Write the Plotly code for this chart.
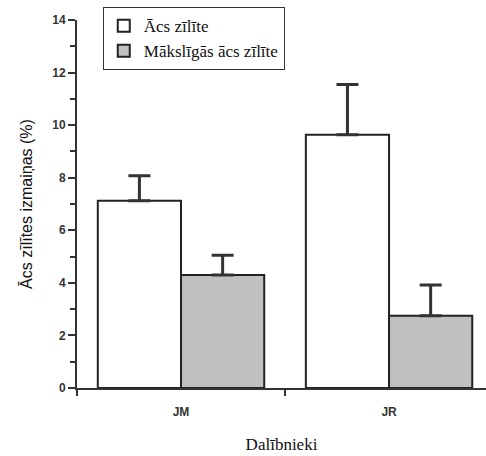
import plotly.graph_objects as go

categories = ["JM", "JR"]
series_names = ["Ācs zīlīte", "Mākslīgās ācs zīlīte"]
natural_vals = [7.12, 9.63]
natural_err = [0.95, 1.92]
artificial_vals = [4.30, 2.75]
artificial_err = [0.75, 1.17]

fills = ["#ffffff", "#c0c0c0"]

fig = go.Figure()
for name, vals, errs, fill in [
    (series_names[0], natural_vals, natural_err, fills[0]),
    (series_names[1], artificial_vals, artificial_err, fills[1]),
]:
    fig.add_trace(go.Bar(
        x=categories, y=vals, name=name,
        marker=dict(color=fill, line=dict(color="#222222", width=2)),
        error_y=dict(type="data", array=errs, symmetric=False,
                     arrayminus=[0] * len(errs),
                     color="#333333", thickness=3, width=11),
    ))

fig.update_layout(
    width=486, height=456,
    margin=dict(l=77, r=0, t=20, b=68),
    paper_bgcolor="white", plot_bgcolor="white",
    barmode="group", bargap=0.2, bargroupgap=0,
    showlegend=True,
    legend=dict(
        x=0.063, y=1.035, xanchor="left", yanchor="top",
        bgcolor="rgba(255,255,255,0)", bordercolor="#333333", borderwidth=1,
        font=dict(family="Liberation Serif", size=17, color="#111111"),
        tracegroupgap=0, itemwidth=30,
    ),
    xaxis=dict(
        range=[-0.5, 1.466], showline=True, linecolor="#333333", linewidth=2,
        ticks="outside", tickson="boundaries", ticklen=6, tickwidth=2, tickcolor="#333333",
        ticklabelstandoff=12,
        tickfont=dict(family="Liberation Sans", size=12, color="#333333", weight="bold"),
        showgrid=False, zeroline=False,
        title=dict(text="Dalībnieki", standoff=20,
                   font=dict(family="Liberation Serif", size=17, color="#111111")),
    ),
    yaxis=dict(
        range=[0, 14], showline=True, linecolor="#333333", linewidth=2,
        tickmode="linear", tick0=0, dtick=2,
        ticks="outside", ticklen=7, tickwidth=2, tickcolor="#333333",
        minor=dict(ticks="outside", ticklen=5, tickwidth=2, tickcolor="#333333", dtick=1),
        tickfont=dict(family="Liberation Sans", size=12, color="#333333", weight="bold"),
        showgrid=False, zeroline=False,
        title=dict(text="Ācs zīlītes izmaiņas (%)", standoff=16,
                   font=dict(family="Liberation Sans", size=16, color="#111111")),
    ),
)

fig.write_html("out.html")
